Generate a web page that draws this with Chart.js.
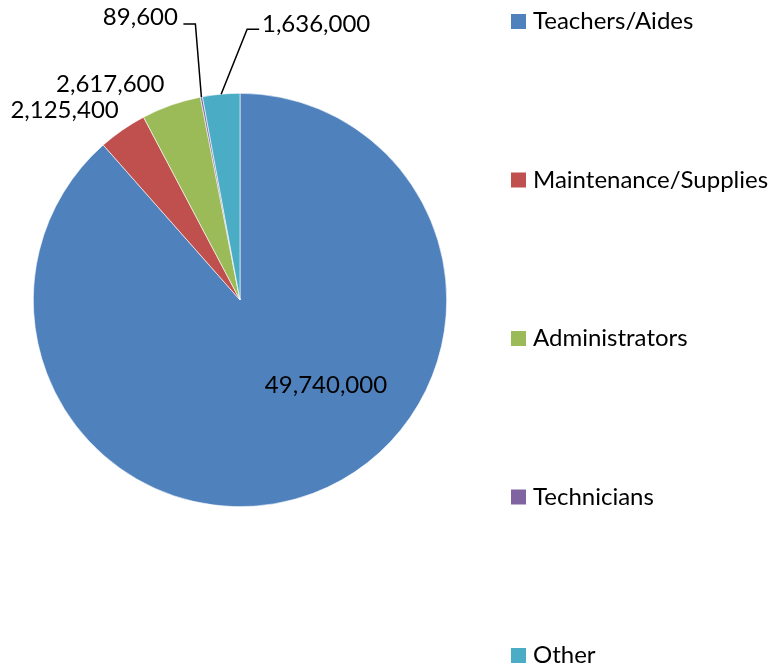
<!DOCTYPE html>
<html>
<head>
<meta charset="utf-8">
<title>Budget by category</title>
<script src="https://cdn.jsdelivr.net/npm/chart.js@4/dist/chart.umd.min.js"></script>
<style>
  html, body { margin: 0; padding: 0; background: #fff; }
  canvas { display: block; }
</style>
</head>
<body>
<canvas id="budgetPie" width="776" height="665"></canvas>
<script>
const categories = ["Teachers/Aides", "Maintenance/Supplies", "Administrators", "Technicians", "Other"];
const amounts = [49740000, 2125400, 2617600, 89600, 1636000];
const sliceColors = ["#4F81BD", "#C0504D", "#9BBB59", "#8064A2", "#4BACC6"];

const FONT = "24px Lato, 'Open Sans', sans-serif";

// where each value label sits: "inside" is measured from the pie centre,
// "outside" from the middle of the slice's rim (text centre-x, baseline)
const labelSpots = [
  { mode: "inside", dx: 86, dy: 93 },
  { mode: "outside", dx: -58, dy: -12 },
  { mode: "outside", dx: -61, dy: -13 },
  { mode: "outside", dx: -61, dy: -72, leader: [[-6, -73], [-18, -73]] },
  { mode: "outside", dx: 95, dy: -62, leader: [[26, -65], [38, -65]] },
];

const valueLabels = {
  id: "valueLabels",
  afterDatasetsDraw(chart) {
    const ctx = chart.ctx;
    const arcs = chart.getDatasetMeta(0).data;
    ctx.save();
    ctx.font = FONT;
    ctx.fillStyle = "#000";
    ctx.textAlign = "center";
    ctx.textBaseline = "alphabetic";
    arcs.forEach((arc, i) => {
      const spot = labelSpots[i];
      const mid = (arc.startAngle + arc.endAngle) / 2;
      let ax = arc.x, ay = arc.y;
      if (spot.mode === "outside") {
        ax = arc.x + Math.cos(mid) * arc.outerRadius;
        ay = arc.y + Math.sin(mid) * arc.outerRadius;
      }
      if (spot.leader) {
        ctx.beginPath();
        ctx.strokeStyle = "#000";
        ctx.lineWidth = 1.5;
        ctx.moveTo(ax, ay);
        spot.leader.forEach(([lx, ly]) => ctx.lineTo(ax + lx, ay + ly));
        ctx.stroke();
      }
      ctx.fillText(amounts[i].toLocaleString("en-US"), ax + spot.dx, ay + spot.dy);
    });
    ctx.restore();
  },
};

// tall, widely spaced legend down the right-hand side
const sideLegend = {
  id: "sideLegend",
  afterDraw(chart) {
    const ctx = chart.ctx;
    ctx.save();
    ctx.font = FONT;
    ctx.textAlign = "left";
    ctx.textBaseline = "alphabetic";
    categories.forEach((name, i) => {
      const top = 14 + i * 158.5;
      ctx.fillStyle = sliceColors[i];
      ctx.fillRect(511, top, 15, 15);
      ctx.fillStyle = "#000";
      ctx.fillText(name, 533, top + 15);
    });
    ctx.restore();
  },
};

new Chart("budgetPie", {
  type: "pie",
  data: {
    labels: categories,
    datasets: [
      {
        data: amounts,
        backgroundColor: sliceColors,
        borderColor: "#fff",
        borderWidth: 0.6,
      },
    ],
  },
  options: {
    responsive: false,
    animation: false,
    layout: {
      padding: { left: 33, top: 93, right: 329, bottom: 158 },
    },
    plugins: {
      legend: { display: false },
      tooltip: { enabled: false },
    },
  },
  plugins: [valueLabels, sideLegend],
});
</script>
</body>
</html>
